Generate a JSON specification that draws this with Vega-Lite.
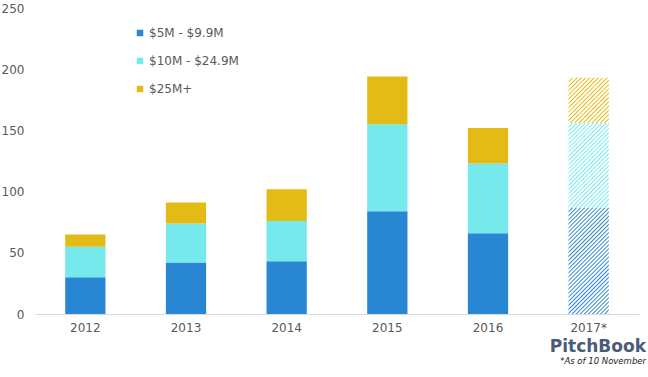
{
"$schema": "https://vega.github.io/schema/vega-lite/v6.json",
"width": 604, "height": 306,
"autosize": {"type": "none"},
"padding": {"left": 35, "top": 8, "right": 9, "bottom": 63},
"background": "white",
"config": {"view": {"stroke": null}, "font": "DejaVu Sans"},
"title": {"text": "PitchBook", "subtitle": "*As of 10 November", "orient": "bottom", "anchor": "end", "font": "DejaVu Sans", "fontSize": 17, "fontWeight": "bold", "color": "#4b5b7a", "subtitleFont": "DejaVu Sans", "subtitleFontSize": 8.5, "subtitleFontStyle": "italic", "subtitleColor": "#222222", "subtitlePadding": 1, "offset": 6, "dx": 7},
"data": {"values": [
{"year": "2012", "cat": "$5M - $9.9M", "rank": 1, "value": 30},
{"year": "2012", "cat": "$10M - $24.9M", "rank": 2, "value": 25},
{"year": "2012", "cat": "$25M+", "rank": 3, "value": 10},
{"year": "2013", "cat": "$5M - $9.9M", "rank": 1, "value": 42},
{"year": "2013", "cat": "$10M - $24.9M", "rank": 2, "value": 32},
{"year": "2013", "cat": "$25M+", "rank": 3, "value": 17},
{"year": "2014", "cat": "$5M - $9.9M", "rank": 1, "value": 43},
{"year": "2014", "cat": "$10M - $24.9M", "rank": 2, "value": 33},
{"year": "2014", "cat": "$25M+", "rank": 3, "value": 26},
{"year": "2015", "cat": "$5M - $9.9M", "rank": 1, "value": 84},
{"year": "2015", "cat": "$10M - $24.9M", "rank": 2, "value": 71},
{"year": "2015", "cat": "$25M+", "rank": 3, "value": 39},
{"year": "2016", "cat": "$5M - $9.9M", "rank": 1, "value": 66},
{"year": "2016", "cat": "$10M - $24.9M", "rank": 2, "value": 57},
{"year": "2016", "cat": "$25M+", "rank": 3, "value": 29},
{"year": "2017*", "cat": "$5M - $9.9M", "rank": 1, "value": 87},
{"year": "2017*", "cat": "$10M - $24.9M", "rank": 2, "value": 69},
{"year": "2017*", "cat": "$25M+", "rank": 3, "value": 37}
]},
"transform": [{"stack": "value", "groupby": ["year"], "sort": [{"field": "rank", "order": "ascending"}], "as": ["v0", "v1"]}],
"encoding": {
"x": {"field": "year", "type": "ordinal", "scale": {"paddingInner": 0.6, "paddingOuter": 0.3}, "axis": {"title": null, "ticks": false, "labelAngle": 0, "labelPadding": 8, "labelColor": "#595959", "labelFontSize": 12, "domainColor": "#d9d9d9", "domainWidth": 1}},
"y": {"field": "v1", "type": "quantitative", "scale": {"domain": [0, 250]}, "axis": {"title": null, "domain": false, "ticks": false, "grid": false, "values": [0, 50, 100, 150, 200, 250], "labelPadding": 11, "labelColor": "#595959", "labelFontSize": 12}},
"y2": {"field": "v0"}
},
"layer": [
{"transform": [{"filter": "datum.year != '2017*'"}],
 "mark": {"type": "bar"},
 "encoding": {"color": {"field": "cat", "type": "nominal", "scale": {"domain": ["$5M - $9.9M", "$10M - $24.9M", "$25M+"], "range": ["#2986d3", "#75e9ec", "#e3bb17"]}, "legend": {"title": null, "orient": "none", "legendX": 99, "legendY": 19, "direction": "vertical", "symbolType": "square", "symbolSize": 42, "symbolStrokeWidth": 0, "labelFontSize": 12, "labelColor": "#595959", "rowPadding": 16, "labelOffset": 3}}}},
{"transform": [{"filter": "datum.year == '2017*' && datum.rank == 1"}],
 "mark": {"type": "bar", "color": {"gradient": "linear", "x1": 0, "y1": 0, "x2": 0.4559, "y2": 1.2059, "stops": [
{"offset":0,"color":"#2986d3"},{"offset":0.00926,"color":"#ffffff"},{"offset":0.01852,"color":"#ffffff"},
{"offset":0.02778,"color":"#2986d3"},{"offset":0.03704,"color":"#ffffff"},{"offset":0.0463,"color":"#ffffff"},
{"offset":0.05556,"color":"#2986d3"},{"offset":0.06481,"color":"#ffffff"},{"offset":0.07407,"color":"#ffffff"},
{"offset":0.08333,"color":"#2986d3"},{"offset":0.09259,"color":"#ffffff"},{"offset":0.10185,"color":"#ffffff"},
{"offset":0.11111,"color":"#2986d3"},{"offset":0.12037,"color":"#ffffff"},{"offset":0.12963,"color":"#ffffff"},
{"offset":0.13889,"color":"#2986d3"},{"offset":0.14815,"color":"#ffffff"},{"offset":0.15741,"color":"#ffffff"},
{"offset":0.16667,"color":"#2986d3"},{"offset":0.17593,"color":"#ffffff"},{"offset":0.18519,"color":"#ffffff"},
{"offset":0.19444,"color":"#2986d3"},{"offset":0.2037,"color":"#ffffff"},{"offset":0.21296,"color":"#ffffff"},
{"offset":0.22222,"color":"#2986d3"},{"offset":0.23148,"color":"#ffffff"},{"offset":0.24074,"color":"#ffffff"},
{"offset":0.25,"color":"#2986d3"},{"offset":0.25926,"color":"#ffffff"},{"offset":0.26852,"color":"#ffffff"},
{"offset":0.27778,"color":"#2986d3"},{"offset":0.28704,"color":"#ffffff"},{"offset":0.2963,"color":"#ffffff"},
{"offset":0.30556,"color":"#2986d3"},{"offset":0.31481,"color":"#ffffff"},{"offset":0.32407,"color":"#ffffff"},
{"offset":0.33333,"color":"#2986d3"},{"offset":0.34259,"color":"#ffffff"},{"offset":0.35185,"color":"#ffffff"},
{"offset":0.36111,"color":"#2986d3"},{"offset":0.37037,"color":"#ffffff"},{"offset":0.37963,"color":"#ffffff"},
{"offset":0.38889,"color":"#2986d3"},{"offset":0.39815,"color":"#ffffff"},{"offset":0.40741,"color":"#ffffff"},
{"offset":0.41667,"color":"#2986d3"},{"offset":0.42593,"color":"#ffffff"},{"offset":0.43519,"color":"#ffffff"},
{"offset":0.44444,"color":"#2986d3"},{"offset":0.4537,"color":"#ffffff"},{"offset":0.46296,"color":"#ffffff"},
{"offset":0.47222,"color":"#2986d3"},{"offset":0.48148,"color":"#ffffff"},{"offset":0.49074,"color":"#ffffff"},
{"offset":0.5,"color":"#2986d3"},{"offset":0.50926,"color":"#ffffff"},{"offset":0.51852,"color":"#ffffff"},
{"offset":0.52778,"color":"#2986d3"},{"offset":0.53704,"color":"#ffffff"},{"offset":0.5463,"color":"#ffffff"},
{"offset":0.55556,"color":"#2986d3"},{"offset":0.56481,"color":"#ffffff"},{"offset":0.57407,"color":"#ffffff"},
{"offset":0.58333,"color":"#2986d3"},{"offset":0.59259,"color":"#ffffff"},{"offset":0.60185,"color":"#ffffff"},
{"offset":0.61111,"color":"#2986d3"},{"offset":0.62037,"color":"#ffffff"},{"offset":0.62963,"color":"#ffffff"},
{"offset":0.63889,"color":"#2986d3"},{"offset":0.64815,"color":"#ffffff"},{"offset":0.65741,"color":"#ffffff"},
{"offset":0.66667,"color":"#2986d3"},{"offset":0.67593,"color":"#ffffff"},{"offset":0.68519,"color":"#ffffff"},
{"offset":0.69444,"color":"#2986d3"},{"offset":0.7037,"color":"#ffffff"},{"offset":0.71296,"color":"#ffffff"},
{"offset":0.72222,"color":"#2986d3"},{"offset":0.73148,"color":"#ffffff"},{"offset":0.74074,"color":"#ffffff"},
{"offset":0.75,"color":"#2986d3"},{"offset":0.75926,"color":"#ffffff"},{"offset":0.76852,"color":"#ffffff"},
{"offset":0.77778,"color":"#2986d3"},{"offset":0.78704,"color":"#ffffff"},{"offset":0.7963,"color":"#ffffff"},
{"offset":0.80556,"color":"#2986d3"},{"offset":0.81481,"color":"#ffffff"},{"offset":0.82407,"color":"#ffffff"},
{"offset":0.83333,"color":"#2986d3"},{"offset":0.84259,"color":"#ffffff"},{"offset":0.85185,"color":"#ffffff"},
{"offset":0.86111,"color":"#2986d3"},{"offset":0.87037,"color":"#ffffff"},{"offset":0.87963,"color":"#ffffff"},
{"offset":0.88889,"color":"#2986d3"},{"offset":0.89815,"color":"#ffffff"},{"offset":0.90741,"color":"#ffffff"},
{"offset":0.91667,"color":"#2986d3"},{"offset":0.92593,"color":"#ffffff"},{"offset":0.93519,"color":"#ffffff"},
{"offset":0.94444,"color":"#2986d3"},{"offset":0.9537,"color":"#ffffff"},{"offset":0.96296,"color":"#ffffff"},
{"offset":0.97222,"color":"#2986d3"},{"offset":0.98148,"color":"#ffffff"},{"offset":0.99074,"color":"#ffffff"},
{"offset":1,"color":"#2986d3"}
]}}},
{"transform": [{"filter": "datum.year == '2017*' && datum.rank == 2"}],
 "mark": {"type": "bar", "color": {"gradient": "linear", "x1": 0, "y1": 0, "x2": 0.5734, "y2": 1.2032, "stops": [
{"offset":0,"color":"#75e9ec"},{"offset":0.01111,"color":"#ffffff"},{"offset":0.02222,"color":"#ffffff"},
{"offset":0.03333,"color":"#75e9ec"},{"offset":0.04444,"color":"#ffffff"},{"offset":0.05556,"color":"#ffffff"},
{"offset":0.06667,"color":"#75e9ec"},{"offset":0.07778,"color":"#ffffff"},{"offset":0.08889,"color":"#ffffff"},
{"offset":0.1,"color":"#75e9ec"},{"offset":0.11111,"color":"#ffffff"},{"offset":0.12222,"color":"#ffffff"},
{"offset":0.13333,"color":"#75e9ec"},{"offset":0.14444,"color":"#ffffff"},{"offset":0.15556,"color":"#ffffff"},
{"offset":0.16667,"color":"#75e9ec"},{"offset":0.17778,"color":"#ffffff"},{"offset":0.18889,"color":"#ffffff"},
{"offset":0.2,"color":"#75e9ec"},{"offset":0.21111,"color":"#ffffff"},{"offset":0.22222,"color":"#ffffff"},
{"offset":0.23333,"color":"#75e9ec"},{"offset":0.24444,"color":"#ffffff"},{"offset":0.25556,"color":"#ffffff"},
{"offset":0.26667,"color":"#75e9ec"},{"offset":0.27778,"color":"#ffffff"},{"offset":0.28889,"color":"#ffffff"},
{"offset":0.3,"color":"#75e9ec"},{"offset":0.31111,"color":"#ffffff"},{"offset":0.32222,"color":"#ffffff"},
{"offset":0.33333,"color":"#75e9ec"},{"offset":0.34444,"color":"#ffffff"},{"offset":0.35556,"color":"#ffffff"},
{"offset":0.36667,"color":"#75e9ec"},{"offset":0.37778,"color":"#ffffff"},{"offset":0.38889,"color":"#ffffff"},
{"offset":0.4,"color":"#75e9ec"},{"offset":0.41111,"color":"#ffffff"},{"offset":0.42222,"color":"#ffffff"},
{"offset":0.43333,"color":"#75e9ec"},{"offset":0.44444,"color":"#ffffff"},{"offset":0.45556,"color":"#ffffff"},
{"offset":0.46667,"color":"#75e9ec"},{"offset":0.47778,"color":"#ffffff"},{"offset":0.48889,"color":"#ffffff"},
{"offset":0.5,"color":"#75e9ec"},{"offset":0.51111,"color":"#ffffff"},{"offset":0.52222,"color":"#ffffff"},
{"offset":0.53333,"color":"#75e9ec"},{"offset":0.54444,"color":"#ffffff"},{"offset":0.55556,"color":"#ffffff"},
{"offset":0.56667,"color":"#75e9ec"},{"offset":0.57778,"color":"#ffffff"},{"offset":0.58889,"color":"#ffffff"},
{"offset":0.6,"color":"#75e9ec"},{"offset":0.61111,"color":"#ffffff"},{"offset":0.62222,"color":"#ffffff"},
{"offset":0.63333,"color":"#75e9ec"},{"offset":0.64444,"color":"#ffffff"},{"offset":0.65556,"color":"#ffffff"},
{"offset":0.66667,"color":"#75e9ec"},{"offset":0.67778,"color":"#ffffff"},{"offset":0.68889,"color":"#ffffff"},
{"offset":0.7,"color":"#75e9ec"},{"offset":0.71111,"color":"#ffffff"},{"offset":0.72222,"color":"#ffffff"},
{"offset":0.73333,"color":"#75e9ec"},{"offset":0.74444,"color":"#ffffff"},{"offset":0.75556,"color":"#ffffff"},
{"offset":0.76667,"color":"#75e9ec"},{"offset":0.77778,"color":"#ffffff"},{"offset":0.78889,"color":"#ffffff"},
{"offset":0.8,"color":"#75e9ec"},{"offset":0.81111,"color":"#ffffff"},{"offset":0.82222,"color":"#ffffff"},
{"offset":0.83333,"color":"#75e9ec"},{"offset":0.84444,"color":"#ffffff"},{"offset":0.85556,"color":"#ffffff"},
{"offset":0.86667,"color":"#75e9ec"},{"offset":0.87778,"color":"#ffffff"},{"offset":0.88889,"color":"#ffffff"},
{"offset":0.9,"color":"#75e9ec"},{"offset":0.91111,"color":"#ffffff"},{"offset":0.92222,"color":"#ffffff"},
{"offset":0.93333,"color":"#75e9ec"},{"offset":0.94444,"color":"#ffffff"},{"offset":0.95556,"color":"#ffffff"},
{"offset":0.96667,"color":"#75e9ec"},{"offset":0.97778,"color":"#ffffff"},{"offset":0.98889,"color":"#ffffff"},
{"offset":1,"color":"#75e9ec"}
]}}},
{"transform": [{"filter": "datum.year == '2017*' && datum.rank == 3"}],
 "mark": {"type": "bar", "color": {"gradient": "linear", "x1": 0, "y1": 0, "x2": 0.938, "y2": 1.0552, "stops": [
{"offset":0,"color":"#e3bb17"},{"offset":0.01667,"color":"#ffffff"},{"offset":0.03333,"color":"#ffffff"},
{"offset":0.05,"color":"#e3bb17"},{"offset":0.06667,"color":"#ffffff"},{"offset":0.08333,"color":"#ffffff"},
{"offset":0.1,"color":"#e3bb17"},{"offset":0.11667,"color":"#ffffff"},{"offset":0.13333,"color":"#ffffff"},
{"offset":0.15,"color":"#e3bb17"},{"offset":0.16667,"color":"#ffffff"},{"offset":0.18333,"color":"#ffffff"},
{"offset":0.2,"color":"#e3bb17"},{"offset":0.21667,"color":"#ffffff"},{"offset":0.23333,"color":"#ffffff"},
{"offset":0.25,"color":"#e3bb17"},{"offset":0.26667,"color":"#ffffff"},{"offset":0.28333,"color":"#ffffff"},
{"offset":0.3,"color":"#e3bb17"},{"offset":0.31667,"color":"#ffffff"},{"offset":0.33333,"color":"#ffffff"},
{"offset":0.35,"color":"#e3bb17"},{"offset":0.36667,"color":"#ffffff"},{"offset":0.38333,"color":"#ffffff"},
{"offset":0.4,"color":"#e3bb17"},{"offset":0.41667,"color":"#ffffff"},{"offset":0.43333,"color":"#ffffff"},
{"offset":0.45,"color":"#e3bb17"},{"offset":0.46667,"color":"#ffffff"},{"offset":0.48333,"color":"#ffffff"},
{"offset":0.5,"color":"#e3bb17"},{"offset":0.51667,"color":"#ffffff"},{"offset":0.53333,"color":"#ffffff"},
{"offset":0.55,"color":"#e3bb17"},{"offset":0.56667,"color":"#ffffff"},{"offset":0.58333,"color":"#ffffff"},
{"offset":0.6,"color":"#e3bb17"},{"offset":0.61667,"color":"#ffffff"},{"offset":0.63333,"color":"#ffffff"},
{"offset":0.65,"color":"#e3bb17"},{"offset":0.66667,"color":"#ffffff"},{"offset":0.68333,"color":"#ffffff"},
{"offset":0.7,"color":"#e3bb17"},{"offset":0.71667,"color":"#ffffff"},{"offset":0.73333,"color":"#ffffff"},
{"offset":0.75,"color":"#e3bb17"},{"offset":0.76667,"color":"#ffffff"},{"offset":0.78333,"color":"#ffffff"},
{"offset":0.8,"color":"#e3bb17"},{"offset":0.81667,"color":"#ffffff"},{"offset":0.83333,"color":"#ffffff"},
{"offset":0.85,"color":"#e3bb17"},{"offset":0.86667,"color":"#ffffff"},{"offset":0.88333,"color":"#ffffff"},
{"offset":0.9,"color":"#e3bb17"},{"offset":0.91667,"color":"#ffffff"},{"offset":0.93333,"color":"#ffffff"},
{"offset":0.95,"color":"#e3bb17"},{"offset":0.96667,"color":"#ffffff"},{"offset":0.98333,"color":"#ffffff"},
{"offset":1,"color":"#e3bb17"}
]}}}
]
}
